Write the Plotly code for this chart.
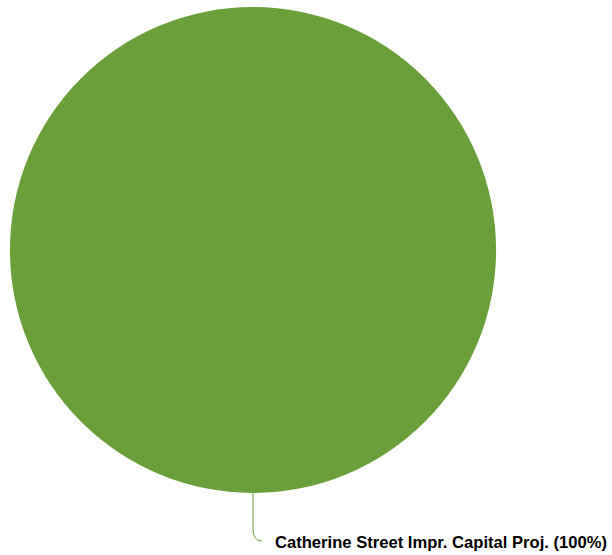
import plotly.graph_objects as go

labels = ["Catherine Street Impr. Capital Proj."]
values = [100]
colors = ["#6a9f3a"]

W, H = 612, 555
# pie geometry in pixels
cx, cy, r = 253, 250, 243

dom_x = [(cx - r) / W, (cx + r) / W]
dom_y = [(H - (cy + r)) / H, (H - (cy - r)) / H]

fig = go.Figure(go.Pie(
    labels=labels,
    values=values,
    marker=dict(colors=colors, line=dict(width=0)),
    textinfo="none",
    hoverinfo="label+percent",
    sort=False,
    domain=dict(x=dom_x, y=dom_y),
    showlegend=False,
))

def px(x):
    return x / W

def py(y):
    return 1 - y / H

total = sum(values)
pct = values[0] / total * 100
label_text = f"<b>{labels[0]} ({pct:.0f}%)</b>"

# leader line from the bottom of the pie to the label
x0, y0 = cx, cy + r
ly = 541
path = (f"M {px(x0)},{py(y0)} L {px(x0)},{py(ly - 12)} "
        f"Q {px(x0)},{py(ly)} {px(x0 + 9)},{py(ly)}")
fig.add_shape(type="path", path=path, xref="paper", yref="paper",
              line=dict(color=colors[0], width=1))

fig.add_annotation(
    x=px(273), y=py(ly + 1.5), xref="paper", yref="paper",
    text=label_text, showarrow=False, xanchor="left", yanchor="middle",
    font=dict(family="Liberation Sans, Arial, sans-serif", size=16.6, color="#000000"),
)

fig.update_layout(
    width=W, height=H,
    margin=dict(l=0, r=0, t=0, b=0),
    paper_bgcolor="white",
    plot_bgcolor="white",
)

fig.write_html("out.html")
